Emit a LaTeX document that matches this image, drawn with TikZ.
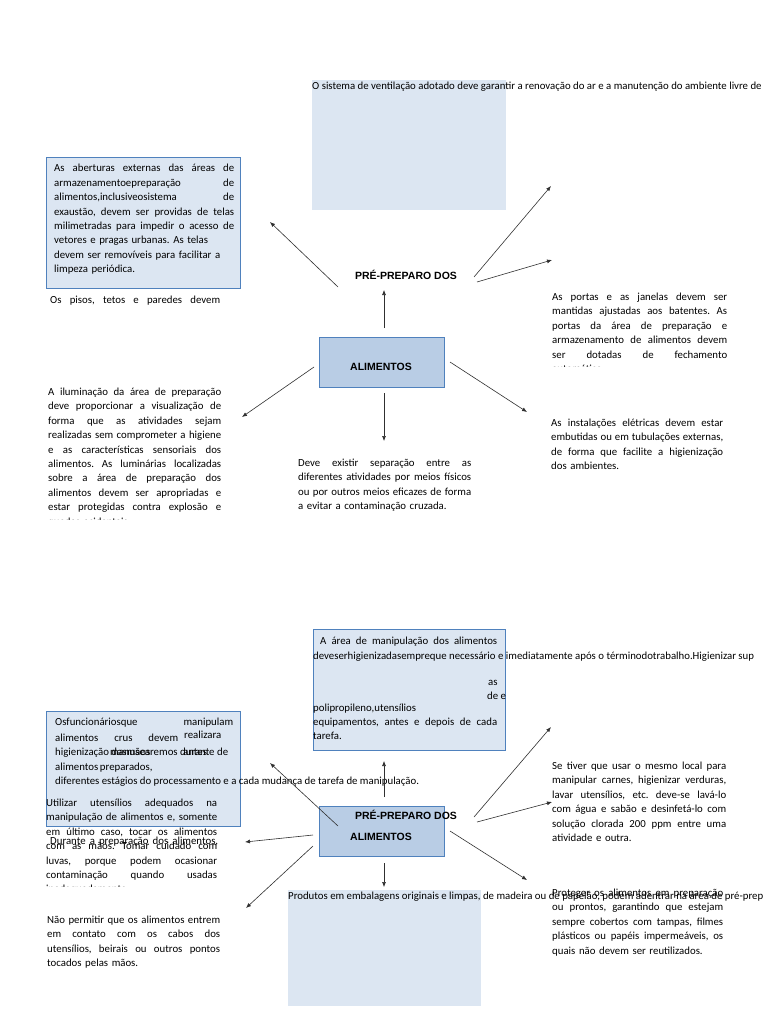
\documentclass[tikz,border=0pt]{standalone}
\usepackage{fontspec}
\setmainfont{Carlito}
\newfontfamily\titulofont{Liberation Sans}
\usepackage{tikz}
\usetikzlibrary{arrows.meta,positioning}
\frenchspacing

\definecolor{azulclaro}{HTML}{DCE6F2}
\definecolor{azulmedio}{HTML}{B9CDE5}
\definecolor{azulborda}{HTML}{4F81BD}
\definecolor{cinza}{HTML}{303030}

\newcommand{\corpo}{\fontsize{10.8}{14.4}\selectfont\frenchspacing}
\newcommand{\jl}[1]{\makebox[\hsize][s]{\spaceskip=0pt\relax\xspaceskip=0pt\relax\frenchspacing #1}}
\newcommand{\jw}[2]{\makebox[#1pt][s]{\spaceskip=0pt\relax\xspaceskip=0pt\relax\frenchspacing #2}}

\tikzset{
  caixa/.style={draw=azulborda, fill=azulclaro, line width=0.8pt, inner sep=0pt, anchor=north west},
  fundo/.style={fill=azulclaro, inner sep=0pt, anchor=north west},
  centro/.style={draw=azulborda, fill=azulmedio, line width=0.8pt, inner sep=0pt, anchor=north west},
  texto/.style={anchor=base west, inner sep=0pt, align=left, text width=#1pt, font=\corpo},
  linha/.style={anchor=base west, inner sep=0pt, font=\corpo},
  titulo/.style={inner sep=0pt, font=\titulofont\bfseries\fontsize{10.5}{12}\selectfont},
  seta/.style={draw=cinza, line width=0.6pt, -{Latex[length=5pt,width=4pt]}}
}

\begin{document}
\begin{tikzpicture}[x=1pt,y=-1pt]
\useasboundingbox[fill=white] (0,0) rectangle (768,1024);

% ---- primeiro mapa
\node[fundo, minimum width=194pt, minimum height=130pt] (fundoVent) at (312,80) {};
\node[linha] (vent) at (312,90) {O sistema de ventilação adotado deve garantir a renovação do ar e a manutenção do ambiente livre de};

\node[caixa, minimum width=194pt, minimum height=131pt] (caixaAbert) at (46,157) {};
\node[texto=180] (abert) at (54,172) {\jl{As aberturas externas das áreas de}\\ \jl{armazenamentoepreparação de}\\ \jl{alimentos,inclusiveosistema de}\\ \jl{exaustão, devem ser providas de telas}\\ \jl{milimetradas para impedir o acesso de}\\ vetores e pragas urbanas. As telas\\ devem ser removíveis para facilitar a\\ limpeza periódica.};
\node[linha] (pisos) at (50,303.5) {\jw{170}{Os pisos, tetos e paredes devem}};

\node[titulo] (prepA) at (406,275) {PRÉ-PREPARO DOS};
\node[centro, minimum width=125pt, minimum height=50pt] (caixaAlimA) at (319,337) {};
\node[titulo] (alimA) at (381,367) {ALIMENTOS};

\begin{scope}
\clip (540,280) rectangle (768,366);
\node[texto=175] (portas) at (552,300.5) {\jl{As portas e as janelas devem ser}\\ \jl{mantidas ajustadas aos batentes. As}\\ \jl{portas da área de preparação e}\\ \jl{armazenamento de alimentos devem}\\ \jl{ser dotadas de fechamento}\\ automático.};
\end{scope}

\begin{scope}
\clip (40,380) rectangle (240,519);
\node[texto=173] (ilum) at (48,395.5) {\jl{A iluminação da área de preparação}\\ \jl{deve proporcionar a visualização de}\\ \jl{forma que as atividades sejam}\\ \jl{realizadas sem comprometer a higiene}\\ \jl{e as características sensoriais dos}\\ \jl{alimentos. As luminárias localizadas}\\ \jl{sobre a área de preparação dos}\\ \jl{alimentos devem ser apropriadas e}\\ \jl{estar protegidas contra explosão e}\\ quedas acidentais.};
\end{scope}

\node[texto=173] (separa) at (298,466.5) {\jl{Deve existir separação entre as}\\ \jl{diferentes atividades por meios físicos}\\ \jl{ou por outros meios eficazes de forma}\\ a evitar a contaminação cruzada.};
\node[texto=172] (eletr) at (551,426.5) {\jl{As instalações elétricas devem estar}\\ \jl{embutidas ou em tubulações externas,}\\ \jl{de forma que facilite a higienização}\\ dos ambientes.};

% setas do primeiro mapa
\coordinate (a1) at (384,328); \coordinate (b1) at (384,290);
\coordinate (a2) at (338,287); \coordinate (b2) at (270,222);
\coordinate (a3) at (474,277); \coordinate (b3) at (551,186);
\coordinate (a4) at (477,282); \coordinate (b4) at (552,260);
\coordinate (a5) at (314,367); \coordinate (b5) at (242,417);
\coordinate (a6) at (384,393); \coordinate (b6) at (384,441);
\coordinate (a7) at (450,362); \coordinate (b7) at (527,412);
\draw[seta] (a1) -- (b1);
\draw[seta] (a2) -- (b2);
\draw[seta] (a3) -- (b3);
\draw[seta] (a4) -- (b4);
\draw[seta] (a5) -- (b5);
\draw[seta] (a6) -- (b6);
\draw[seta] (a7) -- (b7);

% ---- segundo mapa
\node[caixa, minimum width=192pt, minimum height=121pt] (caixaArea) at (313,629) {};
\node[linha] (area1) at (320,644.5) {\jw{177}{A área de manipulação dos alimentos}};
\node[linha] (area2) at (313,659) {deveserhigienizadasempreque necessário e imediatamente após o términodotrabalho.Higienizar sup};
\node[linha] (area3) at (488,685.5) {as};
\node[linha] (area4) at (487,699) {de e};
\node[linha] (area5) at (313,711.5) {polipropileno,utensílios};
\node[linha] (area6) at (313,725.5) {\jw{184}{equipamentos, antes e depois de cada}};
\node[linha] (area7) at (313,739.5) {tarefa.};

\node[caixa, minimum width=194pt, minimum height=115pt] (caixaFunc) at (46,711) {};
\node[linha] (func1) at (55,725.5) {\jw{178}{Osfuncionáriosque manipulam}};
\node[linha] (func2) at (55,741.5) {\jw{123}{alimentos crus devem}};
\node[linha] (func2b) at (184,738.5) {realizara};
\node[linha] (func3) at (55,755.5) {higienização dasmãos};
\node[linha] (func3b) at (110,755.5) {manusearemos durante};
\node[linha] (func3c) at (183,755.5) {\jw{45}{antes de}};
\node[linha] (func4) at (55,770.5) {\jw{97}{alimentos preparados,}};
\node[linha] (func5) at (55,784.5) {diferentes estágios do processamento e a cada mudança de tarefa de manipulação.};

\begin{scope}
\clip (40,790) rectangle (240,886);
\node[texto=171] (utens) at (46,806.5) {\jl{Utilizar utensílios adequados na}\\ \jl{manipulação de alimentos e, somente}\\ \jl{em último caso, tocar os alimentos}\\ \jl{com as mãos. Tomar cuidado com}\\ \jl{luvas, porque podem ocasionar}\\ \jl{contaminação quando usadas}\\ inadequadamente.};
\end{scope}
\node[linha] (durante) at (50,844.5) {\jw{168}{Durante a preparação dos alimentos,}};

\node[centro, minimum width=125pt, minimum height=50pt] (caixaAlimB) at (319,806) {};
\node[titulo] (prepB) at (406,815) {PRÉ-PREPARO DOS};
\node[titulo] (alimB) at (381,837) {ALIMENTOS};

\node[texto=174] (usar) at (552,769.5) {\jl{Se tiver que usar o mesmo local para}\\ \jl{manipular carnes, higienizar verduras,}\\ \jl{lavar utensílios, etc. deve-se lavá-lo}\\ \jl{com água e sabão e desinfetá-lo com}\\ \jl{solução clorada 200 ppm entre uma}\\ atividade e outra.};

\node[fundo, minimum width=193pt, minimum height=116pt] (fundoProd) at (288,890) {};
\node[linha] (prod) at (288,899.5) {Produtos em embalagens originais e limpas, de madeira ou de papelão, podem adentrar na área de pré-prep};
\node[texto=171] (proteger) at (552,896.5) {\jl{Proteger os alimentos em preparação}\\ \jl{ou prontos, garantindo que estejam}\\ \jl{sempre cobertos com tampas, filmes}\\ \jl{plásticos ou papéis impermeáveis, os}\\ quais não devem ser reutilizados.};
\node[texto=173] (permitir) at (47,923.5) {\jl{Não permitir que os alimentos entrem}\\ \jl{em contato com os cabos dos}\\ \jl{utensílios, beirais ou outros pontos}\\ tocados pelas mãos.};

% setas do segundo mapa
\coordinate (c1) at (384,797); \coordinate (d1) at (384,761);
\coordinate (c2) at (338,826); \coordinate (d2) at (270,763);
\coordinate (c3) at (313,835); \coordinate (d3) at (245,842);
\coordinate (c4) at (313,846); \coordinate (d4) at (246,908);
\coordinate (c5) at (384,863); \coordinate (d5) at (384,887);
\coordinate (c6) at (450,831); \coordinate (d6) at (527,880);
\coordinate (c7) at (474,817); \coordinate (d7) at (551,727);
\coordinate (c8) at (477,822); \coordinate (d8) at (552,802);
\draw[seta] (c1) -- (d1);
\draw[seta] (c2) -- (d2);
\draw[seta] (c3) -- (d3);
\draw[seta] (c4) -- (d4);
\draw[seta] (c5) -- (d5);
\draw[seta] (c6) -- (d6);
\draw[seta] (c7) -- (d7);
\draw[seta] (c8) -- (d8);
\end{tikzpicture}
\end{document}
